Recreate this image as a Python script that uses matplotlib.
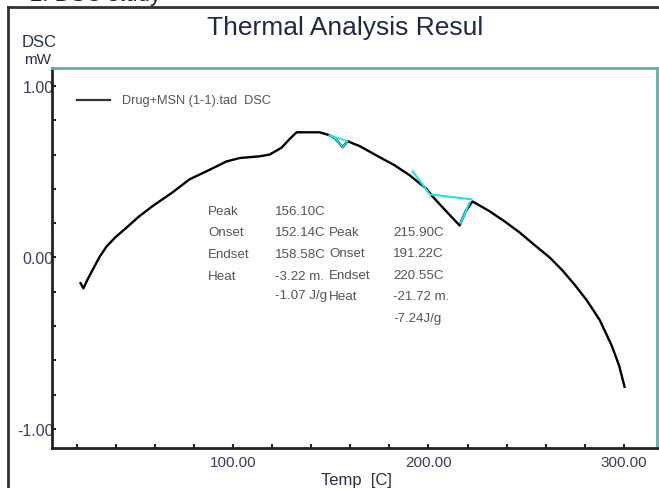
import matplotlib.pyplot as plt
from matplotlib.ticker import MultipleLocator, FormatStrFormatter

plt.rcParams['font.family'] = ['Liberation Sans', 'DejaVu Sans']

# DSC trace: temperature (C) vs heat flow (mW)
temp = [22.0, 23.5, 25.5, 31.8, 35.3, 40.0, 45.6, 52.0, 58.9, 69.1, 77.8,
        86.5, 96.7, 103.4, 113.6, 118.7, 124.8, 128.9, 132.5, 144.3, 149.4,
        152.1, 156.1, 158.6, 164.7, 175.0, 182.6, 190.3, 199.0, 202.0,
        208.2, 215.9, 219.0, 222.5, 231.2, 239.0, 246.6, 254.0, 262.0,
        268.5, 274.7, 281.0, 287.5, 293.6, 297.5, 300.3]
dsc = [-0.15, -0.18, -0.13, 0.005, 0.064, 0.12, 0.175, 0.24, 0.30, 0.38,
       0.456, 0.503, 0.56, 0.58, 0.59, 0.60, 0.64, 0.69, 0.73, 0.73, 0.713,
       0.696, 0.643, 0.678, 0.65, 0.585, 0.538, 0.48, 0.40, 0.357,
       0.28, 0.187, 0.27, 0.327, 0.27, 0.21, 0.146, 0.075, 0.0,
       -0.075, -0.158, -0.25, -0.363, -0.51, -0.63, -0.754]

# peak analysis construction lines
peak1_x = [149.4, 152.1, 156.1, 158.6, 149.4]
peak1_y = [0.713, 0.696, 0.643, 0.678, 0.713]
peak2_x = [191.9, 200.6, 222.0]
peak2_y = [0.503, 0.368, 0.339]
peak2_edge_x = [216.4, 221.0]
peak2_edge_y = [0.20, 0.32]

labels1 = ['Peak', 'Onset', 'Endset', 'Heat']
values1 = ['156.10C', '152.14C', '158.58C', '-3.22 m.', '-1.07 J/g']
labels2 = ['Peak', 'Onset', 'Endset', 'Heat']
values2 = ['215.90C', '191.22C', '220.55C', '-21.72 m.', '-7.24J/g']

W, H = 659, 489
fig = plt.figure(figsize=(W / 100, H / 100), dpi=100)

def fx(px):
    return px / W

def fy(py):
    return 1 - py / H

# outer frame of the report page
fig.add_artist(plt.Line2D([fx(8), fx(8)], [fy(8), 0], color='#333333', lw=2))
fig.add_artist(plt.Line2D([fx(8), 1], [fy(8), fy(8)], color='#333333', lw=2))
fig.text(fx(30), fy(0.5), '2. DSC study', fontsize=16, va='baseline', color='#222222')

fig.text(fx(345), fy(35), 'Thermal Analysis Resul', fontsize=19, ha='center',
         va='baseline', color='#1f2a44')
fig.text(fx(39), fy(47), 'DSC', fontsize=12, ha='center', va='baseline', color='#2a2f45')
fig.text(fx(38), fy(64), 'mW', fontsize=11, ha='center', va='baseline', color='#2a2f45')

ax = fig.add_axes([fx(52), fy(449), fx(657) - fx(52), fy(69) - fy(449)])
ax.plot(temp, dsc, color='black', lw=1.7)
ax.plot(peak1_x, peak1_y, color='#20e0e8', lw=1.2)
ax.plot(peak2_x, peak2_y, color='#20e0e8', lw=1.5)
ax.plot(peak2_edge_x, peak2_edge_y, color='#20e0e8', lw=1.5)

ax.set_xlim(7.4, 316.9)
ax.set_ylim(-1.111, 1.105)
ax.xaxis.set_major_locator(MultipleLocator(100))
ax.xaxis.set_minor_locator(MultipleLocator(20))
ax.yaxis.set_major_locator(MultipleLocator(1))
ax.yaxis.set_minor_locator(MultipleLocator(0.2))
ax.xaxis.set_major_formatter(FormatStrFormatter('%.2f'))
ax.yaxis.set_major_formatter(FormatStrFormatter('%.2f'))
ax.tick_params(which='both', direction='in', length=3, width=1.5, color='#222222',
               top=False, right=False)
ax.tick_params(axis='x', labelsize=11, pad=5, labelcolor='#3a3f55')
ax.tick_params(axis='y', labelsize=11.5, pad=-1, labelcolor='#3a3f55')
ax.set_xticks([100, 200, 300])
ax.set_yticks([-1, 0, 1])

for side in ['left', 'bottom']:
    ax.spines[side].set_color('#222222')
    ax.spines[side].set_linewidth(2)
for side in ['top', 'right']:
    ax.spines[side].set_color('#5fb0aa')
    ax.spines[side].set_linewidth(2)

ax.set_xlabel('Temp  [C]', fontsize=12, color='#2a2f45')
ax.xaxis.set_label_coords((356 - 52) / (657 - 52), -0.062)

# legend entry
fig.add_artist(plt.Line2D([fx(77), fx(110)], [fy(101), fy(101)], color='#333333', lw=1.6))
fig.text(fx(122), fy(101), 'Drug+MSN (1-1).tad  DSC', fontsize=9.2, va='center',
         color='#555555')

# peak result tables
for i, s in enumerate(labels1):
    fig.text(fx(208), fy(212 + 21.5 * i), s, fontsize=9.6, va='center', color='#555555')
for i, s in enumerate(values1):
    fig.text(fx(275), fy(212 + 21.5 * i - (2 if i == 4 else 0)), s, fontsize=9.6,
             va='center', color='#555555')
for i, s in enumerate(labels2):
    fig.text(fx(329), fy(233 + 21.5 * i), s, fontsize=9.6, va='center', color='#555555')
for i, s in enumerate(values2):
    fig.text(fx(393), fy(233 + 21.5 * i), s, fontsize=9.6, va='center', color='#555555')

fig.savefig('out.png', dpi=100)
